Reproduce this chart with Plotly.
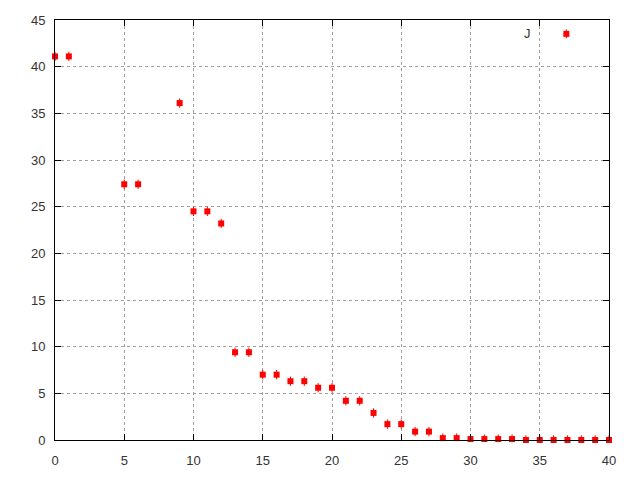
import plotly.graph_objects as go

x_vals = list(range(0, 41))
y_vals = [41.1, 41.1, None, None, None, 27.4, 27.4, None, None, 36.1,
          24.5, 24.5, 23.2, 9.4, 9.4, 7.0, 7.0, 6.3, 6.3, 5.6,
          5.6, 4.2, 4.2, 2.9, 1.7, 1.7, 0.9, 0.9, 0.2, 0.2,
          0.1, 0.1, 0.1, 0.1, 0.0, 0.0, 0.0, 0.0, 0.0, 0.0, 0.0]
err_vals = [0.5] * len(x_vals)
legend_label = "J"

xs = [x for x, y in zip(x_vals, y_vals) if y is not None]
ys = [y for y in y_vals if y is not None]
es = [e for e, y in zip(err_vals, y_vals) if y is not None]

font_family = "Liberation Sans, Arial, sans-serif"
red = "#ff0000"
marker_style = dict(symbol="square", size=6, color=red, line=dict(width=0))

fig = go.Figure()
fig.add_trace(go.Scatter(
    x=xs, y=ys, mode="markers", name=legend_label, showlegend=False,
    marker=marker_style,
    error_y=dict(type="data", array=es, visible=True, color=red, thickness=1, width=0),
    cliponaxis=False,
))
# legend key sample (gnuplot style: label on the left, sample on the right)
fig.add_trace(go.Scatter(
    x=[0.923], y=[0.967], xaxis="x2", yaxis="y2", mode="markers",
    showlegend=False, hoverinfo="skip", marker=marker_style,
    error_y=dict(type="constant", value=0.0107, visible=True, color=red, thickness=1, width=0),
    cliponaxis=False,
))

axis_common = dict(
    showgrid=True, gridcolor="#a0a0a0", griddash="dot", gridwidth=1,
    zeroline=False, showline=True, linecolor="black", linewidth=1, mirror="ticks",
    ticks="inside", ticklen=6, tickcolor="black", automargin=False,
    tickfont=dict(family=font_family, size=13, color="#333333"),
)

fig.update_layout(
    xaxis=dict(range=[0, 40], dtick=5, tick0=0, ticklabelstandoff=8, **axis_common),
    yaxis=dict(range=[0, 45], dtick=5, tick0=0, ticklabelstandoff=6, **axis_common),
    xaxis2=dict(range=[0, 1], overlaying="x", visible=False, fixedrange=True, automargin=False),
    yaxis2=dict(range=[0, 1], overlaying="y", visible=False, fixedrange=True, automargin=False),
)

# white key box hiding the grid behind the key
fig.add_shape(type="rect", xref="paper", yref="paper",
              x0=0.80, x1=0.99, y0=0.943, y1=0.985,
              fillcolor="white", line=dict(width=0), layer="between")

fig.add_annotation(
    x=0.852, y=0.967, xref="paper", yref="paper",
    text=legend_label, showarrow=False, xanchor="center", yanchor="middle",
    font=dict(family=font_family, size=13, color="#333333"),
)

fig.update_layout(
    width=640, height=480,
    margin=dict(l=47, r=39, t=12, b=48),
    plot_bgcolor="white", paper_bgcolor="white",
    showlegend=False,
)

fig.write_html("out.html")
